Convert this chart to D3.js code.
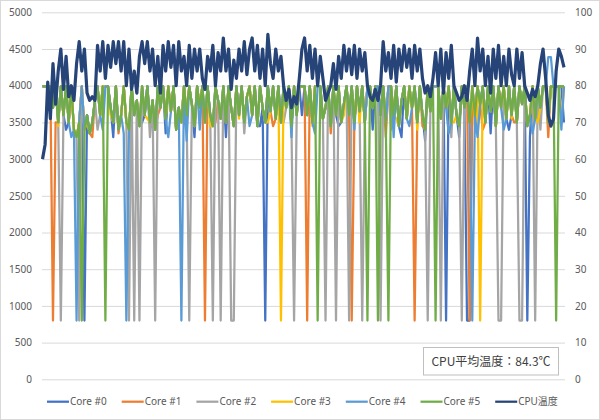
<!DOCTYPE html>
<html><head><meta charset="utf-8">
<script src="https://cdn.jsdelivr.net/npm/d3@7"></script>
<style>body{margin:0;background:#fff}svg{display:block}text{font-family:"Noto Sans","Noto Sans CJK JP",sans-serif}</style>
</head><body><svg id="c" width="600" height="420"></svg>
<script>
const core0=[
3990,3990,3990,3990,3700,3990,3500,3990,3600,3400,
3500,3990,3400,3300,3500,3990,800,3600,3350,3500,
3800,3990,3600,3990,3990,3990,3700,3300,3990,3400,
3600,3990,3500,3400,3990,3600,3800,3450,3500,3600,
3990,3500,3800,3400,3990,3700,3990,3350,3990,3650,
3990,3400,3700,3500,3990,3600,3990,3750,3300,3990,
3700,3990,3500,3990,3600,3450,3990,3800,3550,3990,
3300,3990,3700,3450,3990,3600,3990,3500,3850,3990,
3600,3990,3450,3450,3700,800,3990,3650,3990,3550,
3990,3500,3990,3700,3990,3450,3990,3600,3990,3600,
3990,3600,3990,3500,3990,3990,3990,3550,3700,3990,
3450,3990,3600,3450,3500,3750,3990,3600,3990,3500,
3990,3650,3990,3500,3990,3990,3400,3990,3990,3600,
3990,3500,3990,3990,3600,3990,3450,3300,3990,3550,
3990,3700,3990,3500,3990,3600,3250,3990,3650,3990,
3990,3990,3550,3990,800,3990,3500,3990,3600,3300,
3990,3700,800,800,3990,3600,3990,3750,3990,3500,
3990,3350,3990,3450,3990,3700,3990,3550,3400,3600,
3990,3500,3990,3750,3990,800,3300,3990,3550,3990,
3700,3990,3990,3500,3990,3990,3990,3990,3990,3500];
const core1=[
3990,3990,3990,3990,800,3500,3500,3990,3600,3990,
3500,3990,3400,3300,3500,3990,3400,3600,3350,3300,
3800,3990,3600,3990,3990,3990,3700,3500,3990,3350,
3600,3990,3500,3400,3990,3600,3800,3450,3990,3600,
3990,3500,3800,3400,3600,3700,3990,3550,3990,3650,
3990,3400,3700,3500,3990,3600,3990,3750,3450,3990,
3700,3990,800,3990,3600,3450,3500,3800,3550,3990,
3500,3990,3700,3450,3990,3600,3990,3500,3850,3990,
3600,3990,3450,3990,3700,3500,3990,3650,3450,3550,
3990,3500,3990,3700,3990,3450,3990,3600,3990,3990,
3990,800,3990,3500,3990,3990,3990,3550,3700,3990,
3350,3990,3600,3990,3500,3750,3990,3600,800,3500,
3990,3650,3990,3500,3990,3990,3700,3990,3990,3600,
3990,3300,3990,3990,3600,3990,3450,3800,3990,3550,
3990,3700,800,3500,3990,3450,3400,3990,3650,3990,
3990,3990,3550,3990,3700,3990,3500,3990,3600,3450,
3990,3700,3990,800,3990,3600,3990,3750,3400,3500,
3990,3650,3990,3450,3990,3700,3990,3550,3990,3600,
3500,3500,3990,3750,3990,3450,3600,3990,3550,3990,
3700,3990,3990,3300,3990,3990,3990,3990,3990,3990];
const core2=[
3990,3990,3990,3990,3700,3990,3500,800,3600,3990,
3500,3990,3400,3300,800,3990,3400,3600,3350,3500,
3800,3400,3600,3990,3990,3990,3700,3500,3990,3400,
3600,3990,3500,800,3990,800,3800,800,3990,3600,
3990,3300,3800,800,3990,3700,3990,3550,3990,3650,
3990,3400,3700,3500,3990,3600,800,3750,3450,3990,
3700,3990,3500,3990,3600,800,3990,3800,800,3990,
3500,3990,800,800,3990,3600,3990,3350,3850,3990,
3600,3990,3450,3990,3700,3500,3990,3650,3990,3550,
3990,3500,3500,3700,3990,3450,800,3600,3990,3990,
3990,3600,3990,3500,3990,3990,3990,3550,800,3990,
3450,3990,800,3990,3500,3750,3990,800,3990,3500,
3990,3650,800,3500,3990,3990,3700,3990,3990,800,
3990,3500,3990,3400,3600,3990,3450,3800,3990,3550,
3990,3700,3990,3500,3990,3600,3400,800,3650,3990,
3990,3990,800,3990,3700,3990,3300,3990,3600,3450,
800,3700,3990,3500,3990,3600,3990,3750,3990,3500,
3990,3650,3990,3450,800,800,3990,3550,3990,3600,
3990,3500,800,800,3990,3450,3600,3990,800,3990,
3400,3990,3990,3500,3990,3990,3990,3990,3990,3990];
const core3=[
3990,3990,3990,3990,3700,3990,3450,3990,3600,3990,
3500,3990,3400,3300,3500,3990,3400,3500,3350,3500,
3800,3990,3600,3990,3990,3990,3600,3500,3990,3400,
3600,3990,3500,3400,3990,3600,3800,3450,3990,3600,
3550,3500,3800,3400,3990,3700,3990,3550,3990,3650,
3990,3400,3500,3500,3990,3600,3990,3750,3450,3990,
3700,3990,3500,3990,3450,3450,3990,3800,3550,3990,
3500,3990,3700,3450,3990,3550,3990,3500,3850,3990,
3600,3990,3450,3990,3700,3500,3500,3650,3990,3550,
3990,800,3990,3700,3990,3450,3990,3600,3990,3990,
3990,3600,3990,3450,3990,3990,3990,3550,3700,3990,
3450,3990,3600,3990,3500,3600,3990,3600,3990,3500,
3990,3500,3990,3500,3990,3990,3700,3990,3990,3600,
3990,3500,3990,3990,3600,3550,3450,3800,3990,3550,
3990,3700,3990,3400,3990,3600,3400,3990,3650,3990,
3990,3990,3550,3990,3700,3990,3500,3500,3600,3450,
3990,3700,3990,3500,3990,3450,3990,800,3990,3500,
3990,3650,3990,3450,3990,3700,3990,3550,3990,3550,
3990,3500,3990,3750,3990,3450,3600,3990,3550,3500,
3700,3990,3990,3500,3990,3990,3990,3990,3550,3990];
const core4=[
3990,3990,3990,3990,3700,3990,3500,3990,3600,3990,
3500,3300,3400,800,3500,3990,3400,3600,3350,3500,
3800,3990,3600,3400,3990,3990,3700,3500,3990,3400,
3600,3350,800,3400,3990,3600,3800,3450,3990,3600,
3990,3500,3800,3400,3990,3700,3990,3550,3300,3650,
3990,3400,3700,800,3990,3250,3990,3750,3450,3990,
3400,3990,3500,3990,3600,3450,3990,3800,3550,3990,
3500,3990,3700,3450,3990,3600,3990,3500,3850,3450,
3600,3990,3450,3990,3700,3500,3990,3650,3990,3550,
3990,3500,3990,3700,3990,3300,3990,3600,3990,3990,
3990,3600,3990,3500,3350,3990,3990,3550,3700,3990,
3450,3990,3600,3990,3500,3750,3990,3600,3990,3400,
3990,3650,3990,3500,3990,3990,3700,3990,3990,3600,
3990,3500,3990,3990,3300,3990,3450,3800,3990,3550,
3450,3700,3990,3500,3990,3600,3400,3990,3650,3990,
3990,3990,3550,3990,3700,3350,3500,3990,3600,3450,
3990,3700,3990,3500,800,3600,3300,3750,3990,3500,
3990,3650,3990,3450,3990,3700,3400,3550,3990,3600,
3990,3500,3990,3750,3990,3450,3600,3350,3550,3990,
3700,3990,3990,4390,4390,3990,3990,3990,3400,3990];
const core5=[
3990,3990,3990,3990,3700,3990,3500,3990,3600,3990,
3500,3990,3400,3300,3500,800,3400,3600,3350,3500,
3800,3990,3600,3990,800,3990,3700,3500,3990,3400,
3600,3990,3500,3400,3990,3600,3800,3450,3990,3600,
3990,3500,3800,3400,3990,3700,3990,3550,3990,3650,
3990,3400,3700,3500,3990,3600,3990,3750,3450,3990,
3700,3990,3500,3990,3600,3450,3990,3800,3550,3990,
3500,3990,3700,3450,3990,3600,3990,3500,3850,3990,
3600,3990,3450,3990,3700,3500,3990,3650,3990,3550,
3990,3500,3990,3700,3990,3450,3990,3600,3990,3990,
3990,3600,3990,3500,3990,800,3990,3550,3700,3990,
3450,3990,3600,3990,3500,3750,3990,3600,3990,3500,
3990,3650,3990,3500,800,3990,3700,3990,800,3600,
3990,3500,800,3990,3600,3990,3450,3800,3990,3550,
3990,3700,3990,3500,3990,3600,3400,3990,3650,3990,
800,3990,3550,3990,3700,3990,3500,3990,3600,3450,
3990,3700,3990,3500,3990,3600,3990,3750,3990,3500,
3990,3650,3990,3450,3990,3700,3990,3550,3990,3600,
3990,3500,3990,3750,3990,3450,3600,3990,3550,3990,
3700,3990,3990,3500,3990,3990,800,3990,3990,3990];
const cpuTemp=[
60,64,81,71,86,75,84,90,79,88,
77,80,76,86,92,84,90,78,76,77,
76,91,84,92,82,91,85,92,86,92,
84,92,80,90,79,84,78,88,92,86,
92,84,90,80,88,78,91,84,92,85,
91,80,92,84,88,80,91,82,90,84,
90,82,79,88,84,91,80,89,84,93,
84,90,79,87,82,90,84,92,83,90,
93,84,91,82,90,80,94,86,82,90,
84,88,80,76,79,74,77,75,82,90,
93,84,91,82,90,80,88,82,76,78,
80,86,79,88,82,91,84,90,83,91,
82,90,84,89,80,77,76,79,76,80,
92,84,89,82,91,81,90,84,91,85,
90,82,91,84,90,82,78,80,77,82,
89,80,90,78,89,82,91,80,78,76,
77,80,76,84,90,80,93,84,90,80,
88,78,90,82,91,80,88,80,90,83,
80,90,82,89,80,78,76,79,77,80,
86,90,82,72,69,71,84,90,88,85];
const freqTicks=[0,500,1000,1500,2000,2500,3000,3500,4000,4500,5000];
const tempTicks=[0,10,20,30,40,50,60,70,80,90,100];
const seriesNames=["Core #0","Core #1","Core #2","Core #3","Core #4","Core #5","CPU温度"];
const seriesColors=["#4472C4","#ED7D31","#A5A5A5","#FFC000","#5B9BD5","#70AD47","#264478"];
const avgLabel="CPU平均温度：84.3℃";

const coreSeries=[core0,core1,core2,core3,core4,core5];
const N=cpuTemp.length;
const svg=d3.select("#c");
svg.append("rect").attr("x",0.5).attr("y",0.5).attr("width",599).attr("height",419)
  .attr("fill","#fff").attr("stroke","#d9d9d9");
const L=42,R=565,T=12.3,B=379.3;
const x=d3.scaleLinear().domain([0,N-1]).range([L+0.5,R-1]);
const yF=d3.scaleLinear().domain([0,5000]).range([B,T]);
const yT=d3.scaleLinear().domain([0,100]).range([B,T]);

const ga=svg.append("g").attr("transform",`translate(${L},0)`)
  .call(d3.axisLeft(yF).tickValues(freqTicks).tickSize(-(R-L)).tickPadding(10).tickFormat(d3.format("d")));
ga.select(".domain").remove();
ga.selectAll("line").attr("stroke","#d9d9d9");
ga.selectAll("text").attr("fill","#595959").style("font-size","10px");
const gr=svg.append("g").attr("transform",`translate(${R},0)`)
  .call(d3.axisRight(yT).tickValues(tempTicks).tickSize(0).tickPadding(10));
gr.select(".domain").remove();
gr.selectAll("text").attr("fill","#595959").style("font-size","10px");

const lineF=d3.line().x((d,i)=>x(i)).y(d=>yF(d));
coreSeries.forEach((s,k)=>{
  svg.append("path").datum(s).attr("d",lineF).attr("fill","none")
    .attr("stroke",seriesColors[k]).attr("stroke-width",2.25).attr("stroke-linejoin","round");
});
const lineT=d3.line().x((d,i)=>x(i)).y(d=>yT(d));
svg.append("path").datum(cpuTemp).attr("d",lineT).attr("fill","none")
  .attr("stroke",seriesColors[6]).attr("stroke-width",3.2).attr("stroke-linejoin","round");

// annotation
const bx=423.5,by=347.5,bw=135,bh=27.5;
svg.append("rect").attr("x",bx).attr("y",by).attr("width",bw).attr("height",bh)
  .attr("fill","#fff").attr("stroke","#bfbfbf");
svg.append("text").attr("x",bx+bw/2).attr("y",by+bh/2+4.5).attr("text-anchor","middle")
  .attr("fill","#404040").style("font-size","12px").style("font-family","'Noto Sans CJK JP',sans-serif").text(avgLabel);

// legend
const lg=svg.append("g");
seriesNames.forEach((n,k)=>{
  const lx=47+k*74.7, ly=401.7;
  lg.append("line").attr("x1",lx).attr("x2",lx+22).attr("y1",ly).attr("y2",ly)
    .attr("stroke",seriesColors[k]).attr("stroke-width",2.25);
  lg.append("text").attr("x",lx+23).attr("y",ly+3.6).attr("fill","#595959")
    .style("font-size","10px").text(n);
});
</script></body></html>
